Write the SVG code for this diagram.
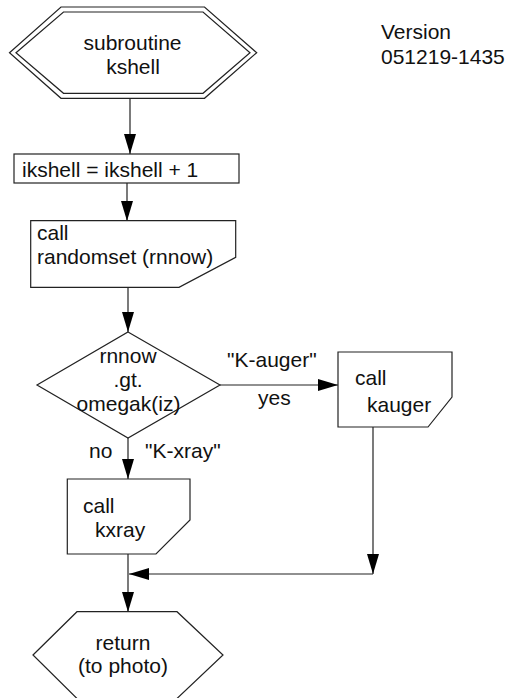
<svg xmlns="http://www.w3.org/2000/svg" width="512" height="698" viewBox="0 0 512 698">
<style>
.s{fill:#fff;stroke:#222;stroke-width:1.2}
.t{font-family:"Liberation Sans",Arial,sans-serif;font-size:21px;fill:#111}
.c{text-anchor:middle}
.ln{fill:none;stroke:#222;stroke-width:1.2}
</style>
<defs>
<marker id="ah" markerUnits="userSpaceOnUse" markerWidth="20" markerHeight="12" refX="20" refY="6" orient="auto">
<path d="M0,0 L20,6 L0,12 z" fill="#000"/>
</marker>
</defs>
<rect width="512" height="698" fill="#fff"/>
<g id="version">
<text class="t" x="381" y="39">Version</text>
<text class="t" x="381" y="64">051219-1435</text>
</g>
<g id="connectors">
<line class="ln" x1="130" y1="98" x2="130" y2="154" marker-end="url(#ah)"/>
<line class="ln" x1="127" y1="183" x2="127" y2="221" marker-end="url(#ah)"/>
<line class="ln" x1="128" y1="287" x2="128" y2="332" marker-end="url(#ah)"/>
<line class="ln" x1="220" y1="385" x2="338" y2="385" marker-end="url(#ah)"/>
<line class="ln" x1="128" y1="438" x2="128" y2="479" marker-end="url(#ah)"/>
<line class="ln" x1="373" y1="427" x2="373" y2="574" marker-end="url(#ah)"/>
<line class="ln" x1="373" y1="574" x2="129" y2="574" marker-end="url(#ah)"/>
<line class="ln" x1="128" y1="554" x2="128" y2="612" marker-end="url(#ah)"/>
<text class="t" x="227" y="367">"K-auger"</text>
<text class="t" x="258" y="405">yes</text>
<text class="t" x="89" y="458">no</text>
<text class="t" x="145" y="458">"K-xray"</text>
</g>
<g id="start">
<polygon class="s" points="9.5,52.7 61,7 204.5,7 256.7,52.7 204.5,98.3 61,98.3"/>
<polygon class="s" points="16,52.7 63.5,12 203,12 250,52.7 203,93.3 63.5,93.3"/>
<text class="t c" x="132.5" y="50">subroutine</text>
<text class="t c" x="133" y="74">kshell</text>
</g>
<g id="inc">
<rect class="s" x="14" y="154" width="225" height="29"/>
<text class="t" x="22" y="177">ikshell = ikshell + 1</text>
</g>
<g id="randomset">
<polygon class="s" points="30.7,220.7 235.7,220.7 235.7,257.3 179,287.3 30.7,287.3"/>
<text class="t" x="37" y="240">call</text>
<text class="t" x="37" y="264">randomset (rnnow)</text>
</g>
<g id="decision">
<polygon class="s" points="128,332 220,385 128,438 37,385"/>
<text class="t c" x="128" y="363">rnnow</text>
<text class="t c" x="128" y="387">.gt.</text>
<text class="t c" x="128.5" y="411">omegak(iz)</text>
</g>
<g id="kauger">
<polygon class="s" points="338,352 452,352 452,397 428,427 338,427"/>
<text class="t" x="355" y="385">call</text>
<text class="t" x="367" y="412">kauger</text>
</g>
<g id="kxray">
<polygon class="s" points="67.3,479 190,479 190,520 156,554 67.3,554"/>
<text class="t" x="83" y="513">call</text>
<text class="t" x="95" y="537">kxray</text>
</g>
<g id="return">
<polygon class="s" points="33,655 77,611.7 177,611.7 223,655 177,698.5 77,698.5"/>
<text class="t c" x="123" y="650">return</text>
<text class="t c" x="123" y="673">(to photo)</text>
</g>
</svg>
